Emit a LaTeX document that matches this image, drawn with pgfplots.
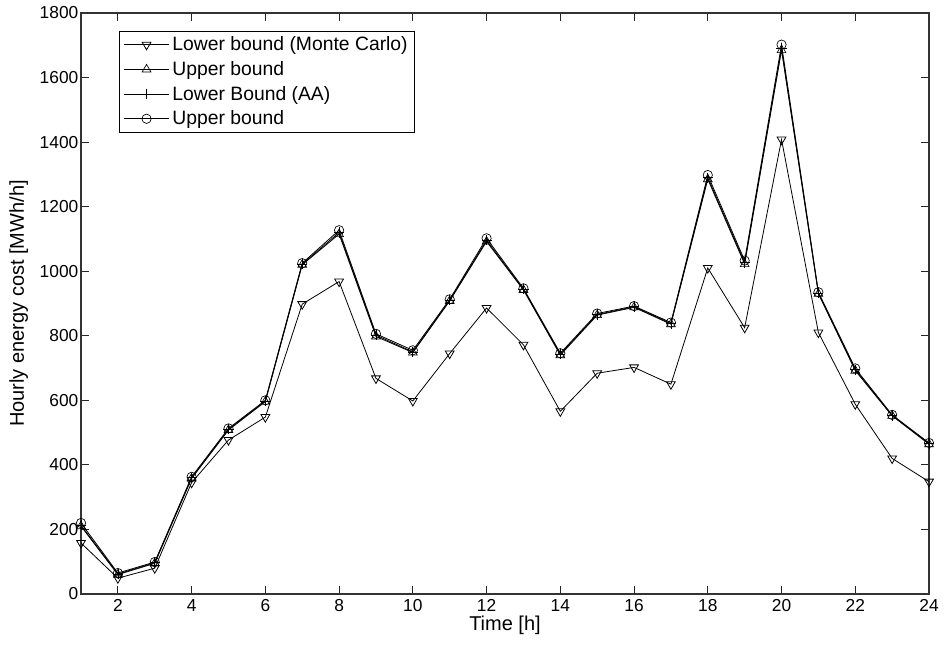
\documentclass[border=0pt]{standalone}
\usepackage{pgfplots}
\pgfplotsset{compat=1.18}
\usepackage{fontspec}
\setmainfont{Liberation Sans}

\pgfplotstableread{
t   mc     ub1    aa     ub2
1   158    210    213    220
2   49     60     62     65
3   80     95     97     99
4   345    358    360    363
5   477    508    510    513
6   548    596    598    600
7   898    1020   1022   1025
8   968    1115   1120   1127
9   668    798    802    806
10  598    748    750    755
11  745    908    910    913
12  886    1092   1096   1102
13  772    942    944    947
14  566    740    743    746
15  684    864    866    869
16  702    888    890    892
17  650    836    838    841
18  1010   1285   1290   1298
19  825    1022   1027   1033
20  1408   1685   1690   1702
21  810    930    932    935
22  588    692    695    699
23  420    552    553    555
24  348    464    466    468
}\costs

\begin{document}
\begin{tikzpicture}
% fixed page frame around the axis box
\path[use as bounding box] (-60.75pt,-39pt) rectangle (650.25pt,445.5pt);
\begin{axis}[
  at={(0pt,0pt)}, anchor=south west,
  scale only axis,
  width=636pt, height=435.75pt,
  xmin=1, xmax=24, ymin=0, ymax=1800,
  xtick={2,4,...,24},
  ytick={0,200,...,1800},
  tick align=inside,
  tick pos=both,
  major tick length=6pt,
  axis line style={line width=0.8pt, black!80},
  every tick/.style={black!85, line width=0.7pt},
  font=\fontsize{13}{15}\selectfont,
  /pgf/number format/assume math mode=true,
  /pgf/number format/1000 sep={},
  yticklabel style={xshift=1.5pt},
  xticklabel style={yshift=-0.5pt},
  xlabel={Time [h]},
  ylabel={Hourly energy cost [MWh/h]},
  label style={font=\fontsize{15}{17}\selectfont},
  xlabel style={at={(axis description cs:0.5,0)}, yshift=-23.5pt, anchor=center},
  ylabel style={at={(axis description cs:-0.0735,0.5)}, anchor=center},
  legend cell align=left,
  legend style={at={(0.0448,0.969)}, anchor=north west, draw=black,
    line width=0.6pt, font=\fontsize{14.5}{16}\selectfont,
    row sep=2.5pt, inner xsep=3pt, inner ysep=2pt},
  legend image code/.code={
    \draw[#1] (0cm,0cm) -- (1.2cm,0cm);
    \draw[#1, only marks] plot coordinates {(0.6cm,0cm)};
  },
  every axis plot/.append style={black, line width=0.6pt,
    mark options={solid, fill=none, line width=0.5pt}},
]
\addplot[mark=triangle, mark size=3.8pt, mark options={rotate=180}] table[x=t, y=mc] {\costs};
\addlegendentry{Lower bound (Monte Carlo)}
\addplot[mark=triangle, mark size=3.8pt] table[x=t, y=ub1] {\costs};
\addlegendentry{Upper bound}
\addplot[mark=+, mark size=3.8pt] table[x=t, y=aa] {\costs};
\addlegendentry{Lower Bound (AA)}
\addplot[mark=o, mark size=3.5pt] table[x=t, y=ub2] {\costs};
\addlegendentry{Upper bound}
\end{axis}
\end{tikzpicture}
\end{document}
